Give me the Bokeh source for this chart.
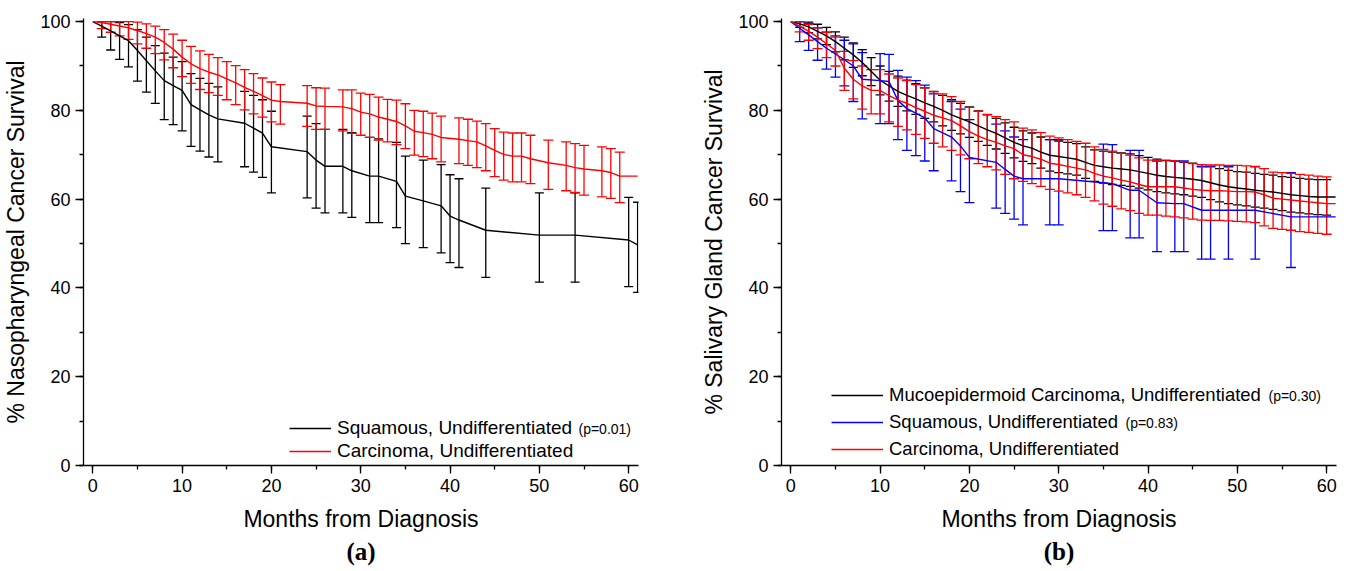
from bokeh.plotting import figure
from bokeh.layouts import row
from bokeh.models import (ColumnDataSource, Whisker, TeeHead, Range1d, SingleIntervalTicker,
                          Legend, LegendItem, Label, Title)
from bokeh.embed import file_html
from bokeh.resources import INLINE

FONT = "Liberation Sans"
SERIF = "Liberation Serif"

# ---------------- Panel (a): nasopharyngeal ----------------
sq_a_t = [0, 1, 2, 3, 4, 5, 6, 7, 8, 9, 10, 11, 12, 13, 14, 17, 18, 19, 20, 24, 25, 26, 28, 29,
          31, 32, 34, 35, 37, 39, 40, 41, 44, 50, 54, 60, 61]
sq_a = [100, 99.0, 97.9, 96.8, 95.7, 93.5, 91.2, 88.9, 86.7, 85.6, 84.5, 81.3, 80.1, 79.0, 78.1,
        77.1, 76.0, 74.9, 71.8, 70.7, 68.8, 67.4, 67.4, 66.4, 65.2, 65.2, 64.0, 60.7, 59.6, 58.5,
        56.2, 55.3, 53.0, 51.9, 51.9, 50.8, 49.7]
sq_a_hi = [100, 100, 100, 99.8, 99.3, 98.2, 96.5, 94.6, 92.9, 92.0, 91.0, 88.3, 87.2, 86.1, 85.3,
           84.3, 83.4, 82.4, 79.8, 78.7, 77.0, 75.7, 75.7, 75.0, 73.9, 73.6, 72.8, 69.7, 68.8, 67.8,
           65.5, 64.6, 62.5, 61.4, 61.4, 60.4, 59.3]
sq_a_lo = [100, 96.5, 93.6, 91.5, 89.8, 86.6, 84.1, 81.6, 77.9, 76.8, 75.4, 71.9, 70.8, 69.5, 68.4,
           67.3, 66.1, 64.9, 61.4, 60.3, 58.0, 56.9, 56.9, 55.9, 54.7, 54.7, 53.6, 50.0, 49.1, 47.9,
           45.7, 44.6, 42.4, 41.3, 41.3, 40.3, 39.0]

car_a_t = [0, 1, 2, 3, 4, 5, 6, 7, 8, 9, 10, 11, 12, 13, 14, 15, 16, 17, 18, 19, 20, 21,
           24, 25, 26, 28, 29, 30, 31, 32, 33, 34, 35, 36, 37, 38, 39,
           41, 42, 43, 44, 45, 46, 47, 48, 49, 51, 53, 54, 55, 57, 58, 59, 61]
car_a = [100, 99.8, 99.4, 99.0, 98.6, 98.0, 97.3, 96.5, 95.3, 93.8, 92.0, 90.5, 89.4, 88.6, 88.0,
         87.1, 86.2, 85.2, 84.3, 83.3, 82.3, 82.0,
         81.6, 81.0, 80.9, 80.8, 80.4, 79.6, 79.2, 78.5, 78.0, 77.5, 76.5, 75.3, 75.0, 74.6, 73.9,
         73.5, 73.2, 72.9, 72.0, 71.0, 70.1, 69.7, 69.7, 69.1, 68.2, 67.6, 67.1, 66.8, 66.4, 66.0,
         65.2, 65.2]
car_a_hi = [100, 100, 100, 100, 100, 99.9, 99.5, 99.0, 98.2, 97.2, 95.8, 94.4, 93.4, 92.6, 91.9,
            91.0, 90.1, 89.2, 88.3, 87.3, 86.4, 85.8,
            85.6, 85.1, 85.0, 84.6, 84.6, 83.9, 83.6, 83.0, 82.5, 82.3, 81.5, 80.0, 79.8, 79.4, 78.7,
            78.3, 78.0, 77.6, 77.0, 75.9, 75.1, 74.9, 74.9, 74.4, 73.3, 72.9, 72.5, 72.1, 71.8, 71.4,
            70.6, 65.2]
car_a_lo = [100, 98.4, 97.6, 96.8, 96.0, 95.0, 94.0, 92.8, 91.4, 89.6, 87.6, 86.1, 84.7, 84.0, 83.4,
            82.4, 81.3, 80.1, 79.2, 78.5, 77.4, 76.9,
            76.4, 75.7, 75.7, 75.4, 74.8, 74.4, 73.9, 73.3, 72.9, 72.3, 71.4, 69.9, 69.6, 69.1, 68.4,
            68.0, 67.6, 67.1, 66.4, 65.1, 64.3, 63.9, 63.9, 63.5, 62.2, 61.9, 61.5, 60.9, 60.5, 60.2,
            59.2, 65.2]

# ---------------- Panel (b): salivary gland ----------------
month_b = list(range(62))
muco_b = [100, 99.5, 98.8, 97.8, 96.8, 95.5, 94.0, 92.5, 90.8, 88.8,
          86.8, 85.5, 84.3, 83.4, 82.6, 81.7, 80.9, 80.0, 79.0, 78.2,
          77.4, 76.5, 75.6, 74.8, 73.8, 72.8, 72.0, 71.5, 70.6, 69.9,
          69.6, 69.3, 69.0, 68.3, 67.6, 67.3, 67.0, 66.8, 66.6, 66.2,
          65.8, 65.4, 65.1, 64.9, 64.7, 64.5, 64.2, 63.7, 63.2, 62.8,
          62.5, 62.3, 62.0, 61.8, 61.6, 61.3, 61.0, 60.8, 60.6, 60.5,
          60.5, 60.5]
muco_b_hi = [100, 100, 99.9, 99.4, 98.7, 97.7, 96.5, 95.2, 93.7, 91.9,
             90.0, 88.8, 87.7, 86.8, 86.0, 85.1, 84.3, 83.4, 82.4, 81.6,
             80.8, 79.9, 79.0, 78.2, 77.2, 76.2, 75.4, 74.9, 74.0, 73.4,
             73.1, 72.8, 72.5, 71.8, 71.1, 70.8, 70.6, 70.4, 70.2, 69.8,
             69.4, 69.0, 68.7, 68.5, 68.3, 68.1, 67.8, 67.4, 66.9, 66.5,
             66.2, 66.1, 65.8, 65.6, 65.4, 65.1, 64.9, 64.7, 64.5, 64.4,
             64.4, 64.4]
muco_b_lo = [100, 98.7, 97.5, 96.1, 94.8, 93.2, 91.4, 89.7, 87.8, 85.6,
             83.5, 82.1, 80.9, 79.9, 79.1, 78.2, 77.4, 76.5, 75.5, 74.7,
             73.9, 73.0, 72.1, 71.3, 70.3, 69.3, 68.5, 68.0, 67.0, 66.3,
             66.0, 65.7, 65.4, 64.7, 64.0, 63.6, 63.3, 63.1, 62.9, 62.5,
             62.1, 61.7, 61.4, 61.2, 61.0, 60.7, 60.4, 59.9, 59.4, 59.0,
             58.7, 58.5, 58.2, 58.0, 57.7, 57.4, 57.1, 56.9, 56.7, 56.5,
             56.4, 56.4]

car_b = [100, 99.0, 97.8, 96.5, 95.0, 93.5, 89.5, 87.0, 85.5, 84.5,
         84.5, 83.3, 82.3, 81.6, 80.6, 79.8, 78.9, 78.3, 77.7, 76.5,
         75.2, 74.2, 73.4, 72.8, 72.0, 71.4, 70.0, 69.6, 69.0, 68.1,
         67.8, 67.4, 67.0, 66.6, 65.8, 65.2, 64.8, 64.3, 63.9, 63.3,
         62.8, 62.8, 62.8, 62.8, 62.5, 62.2, 62.0, 61.9, 61.9, 61.8,
         61.7, 61.7, 61.6, 61.0, 60.2, 60.0, 59.8, 59.6, 59.4, 59.2,
         59.0, 59.0]
car_b_hi = [100, 100, 99.4, 98.6, 97.6, 96.5, 93.3, 91.2, 90.0, 89.2,
            89.2, 88.2, 87.3, 86.7, 85.8, 85.1, 84.2, 83.7, 83.1, 82.0,
            80.7, 79.8, 79.1, 78.6, 77.9, 77.4, 76.0, 75.6, 75.0, 74.2,
            73.8, 73.4, 73.0, 72.6, 71.8, 71.2, 70.8, 70.3, 69.9, 69.3,
            68.8, 68.8, 68.8, 68.6, 68.4, 68.0, 67.8, 67.7, 67.7, 67.6,
            67.6, 67.5, 67.4, 66.9, 66.1, 66.0, 65.8, 65.6, 65.4, 65.2,
            65.0, 65.0]
car_b_lo = [100, 97.7, 95.8, 93.9, 91.9, 90.0, 84.5, 82.6, 80.3, 79.2,
            79.2, 77.4, 76.4, 75.6, 74.6, 73.7, 72.6, 71.8, 71.0, 70.0,
            69.1, 68.0, 67.3, 66.6, 65.6, 64.6, 64.0, 63.5, 62.9, 62.2,
            61.8, 61.4, 61.0, 60.4, 59.6, 58.9, 58.4, 57.8, 57.4, 56.8,
            56.4, 56.4, 56.2, 56.0, 55.8, 55.5, 55.3, 55.2, 55.2, 55.1,
            55.0, 54.9, 54.7, 54.0, 53.4, 53.2, 53.0, 52.7, 52.5, 52.3,
            52.1, 52.1]

sq_b_t = [0, 1, 2, 3, 4, 5, 6, 7, 8, 10, 11, 12, 13, 14, 15, 16, 18, 19, 20, 23, 24, 25, 26, 29,
          30, 35, 36, 38, 39, 41, 43, 44, 46, 47, 49, 52, 56, 61]
sq_b = [100, 98.5, 97.0, 95.5, 94.0, 92.7, 91.4, 90.0, 87.0, 86.7, 86.5, 82.2, 80.4, 79.4, 78.3,
        75.9, 74.0, 72.0, 69.4, 68.3, 66.7, 65.2, 64.6, 64.6, 64.6, 63.7, 63.5, 62.0, 62.0, 59.2,
        59.0, 59.0, 57.5, 57.5, 57.5, 57.5, 56.0, 56.0]
sq_b_hi = [100, 100, 99.6, 98.6, 97.6, 96.8, 95.8, 95.0, 93.0, 92.8, 92.6, 89.0, 87.5, 86.7, 85.7,
           83.7, 82.0, 80.3, 77.9, 76.9, 75.4, 74.0, 73.4, 73.4, 73.4, 72.4, 72.3, 71.0, 71.0, 68.6,
           68.6, 68.6, 67.3, 67.3, 67.3, 67.3, 66.0, 56.0]
sq_b_lo = [100, 95.5, 93.5, 91.3, 89.3, 87.5, 85.5, 82.0, 78.1, 77.0, 77.0, 73.4, 71.0, 69.8, 68.6,
           66.4, 64.1, 61.7, 59.2, 58.0, 56.8, 55.5, 54.2, 54.2, 54.2, 52.9, 52.9, 51.3, 51.3, 48.2,
           48.2, 48.2, 46.5, 46.5, 46.5, 46.5, 44.6, 56.0]

BLACK, RED, BLUE = "#000000", "#ff0000", "#0000ff"
H = 566


def make_panel(width, left, right, ylabel, caption):
    p = figure(width=width, height=H, x_range=Range1d(-1.04, 61.1), y_range=Range1d(0, 100.7),
               output_backend="svg", toolbar_location=None,
               min_border_left=left, min_border_right=right, min_border_top=18,
               min_border_bottom=H - 18 - 448)
    p.outline_line_color = None
    p.grid.visible = False
    p.background_fill_color = "white"
    p.border_fill_color = "white"
    p.xaxis.ticker = SingleIntervalTicker(interval=10, num_minor_ticks=2)
    p.yaxis.ticker = SingleIntervalTicker(interval=20, num_minor_ticks=2)
    for ax in (p.xaxis[0], p.yaxis[0]):
        ax.axis_line_width = 1.3
        ax.axis_line_color = "black"
        ax.major_tick_line_width = 1.3
        ax.minor_tick_line_width = 1.3
        ax.major_tick_line_color = "black"
        ax.minor_tick_line_color = "black"
        ax.major_tick_in = 0
        ax.major_tick_out = 8
        ax.minor_tick_in = 0
        ax.minor_tick_out = 4
        ax.major_label_text_font = FONT
        ax.major_label_text_font_size = "18px"
        ax.major_label_text_color = "black"
        ax.major_label_standoff = 5
        ax.axis_label_text_font = FONT
        ax.axis_label_text_font_size = "23px"
        ax.axis_label_text_font_style = "normal"
        ax.axis_label_text_color = "black"
    p.xaxis.axis_label = "Months from Diagnosis"
    p.xaxis.axis_label_standoff = 11
    p.yaxis.axis_label = ylabel
    p.yaxis.axis_label_standoff = 8
    p.add_layout(Title(text=caption, align="center", text_font=SERIF, text_font_size="25px",
                       text_font_style="bold", text_color="black", standoff=3), "below")
    return p


def add_series(p, t, v, hi, lo, color, cap, first=1, last=None):
    r = p.line(t, v, line_color=color, line_width=1.4)
    if last is None:
        last = len(t)
    src = ColumnDataSource(dict(t=t[first:last], hi=hi[first:last], lo=lo[first:last]))
    w = Whisker(source=src, base="t", upper="hi", lower="lo", line_color=color, line_width=1.3,
                upper_head=TeeHead(size=cap, line_color=color, line_width=1.3),
                lower_head=TeeHead(size=cap, line_color=color, line_width=1.3))
    p.add_layout(w)
    return r


def pval(p, text, x, y):
    p.add_layout(Label(x=x, y=y, x_units="screen", y_units="screen", text=text,
                       text_font=FONT, text_font_size="14px", text_baseline="alphabetic",
                       text_color="black"))


def legend(p, items, loc, glyph_w, size, spacing):
    lg = Legend(items=[LegendItem(label=l, renderers=[r]) for l, r in items], location=loc,
                label_text_font=FONT, label_text_font_size=size, label_text_color="black",
                glyph_width=glyph_w, glyph_height=20, label_height=20, label_standoff=6,
                spacing=spacing, padding=0, margin=0, border_line_color=None,
                background_fill_alpha=0)
    p.add_layout(lg)


# panel a
pa = make_panel(683, 83, 45, "% Nasopharyngeal Cancer Survival", "(a)")
r_sq_a = add_series(pa, sq_a_t, sq_a, sq_a_hi, sq_a_lo, BLACK, 9)
r_car_a = add_series(pa, car_a_t, car_a, car_a_hi, car_a_lo, RED, 10, last=len(car_a_t) - 1)
legend(pa, [("Squamous, Undifferentiated", r_sq_a), ("Carcinoma, Undifferentiated", r_car_a)],
       (206, 3), 42, "19px", 1)
pval(pa, "(p=0.01)", 495, 37)

# panel b
pb = make_panel(666, 98, 13, "% Salivary Gland Cancer Survival", "(b)")
r_muco = add_series(pb, month_b, muco_b, muco_b_hi, muco_b_lo, BLACK, 9, last=61)
r_sq_b = add_series(pb, sq_b_t, sq_b, sq_b_hi, sq_b_lo, BLUE, 10, last=len(sq_b_t) - 1)
r_car_b = add_series(pb, month_b, car_b, car_b_hi, car_b_lo, RED, 10, last=61)
legend(pb, [("Mucoepidermoid Carcinoma, Undifferentiated", r_muco),
            ("Squamous, Undifferentiated", r_sq_b),
            ("Carcinoma, Undifferentiated", r_car_b)], (50, 5), 52, "18.5px", 5)
pval(pb, "(p=0.30)", 487, 70)
pval(pb, "(p=0.83)", 344, 43)

layout = row(pa, pb)
open("out.html", "w").write(file_html(layout, INLINE))
